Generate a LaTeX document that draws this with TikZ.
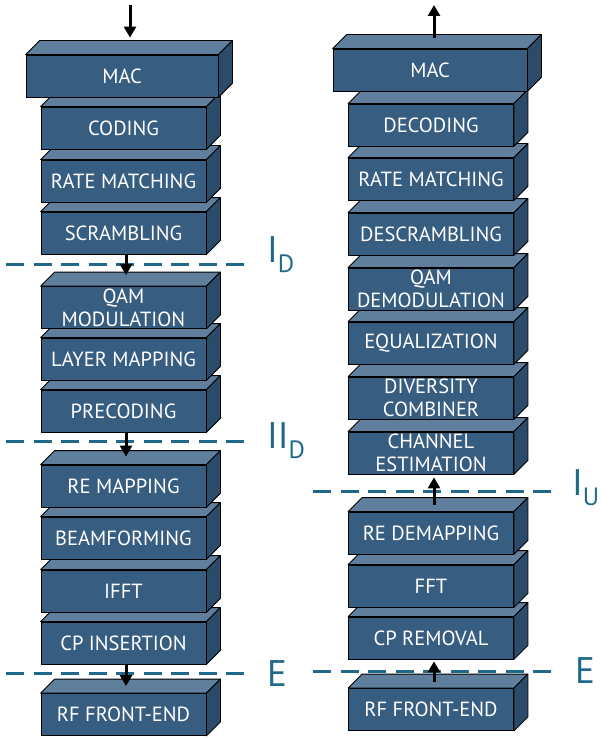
\documentclass[tikz,border=0pt]{standalone}
\usepackage{fontspec}
\setmainfont{PT Sans}
\usetikzlibrary{arrows.meta}
\definecolor{frontc}{HTML}{375D81}
\definecolor{topc}{HTML}{5F7F9D}
\definecolor{sidec}{HTML}{2C4B69}
\definecolor{lblc}{HTML}{1F6A8A}
\tikzset{
  blk/.style={draw=black, fill=frontc, line width=0.8pt, minimum height=42pt, inner sep=0pt,
    text=white, align=center, font=\fontsize{20.5}{23}\selectfont},
  face/.style={draw=black, line width=0.8pt, line join=round},
  sep/.style={draw=lblc, line width=3pt, dash pattern=on 18pt off 9.5pt},
  lbl/.style={text=lblc, inner sep=0pt, anchor=base west, font=\fontsize{37}{37}\selectfont},
  arr/.style={line width=3pt, -{Triangle[length=11pt,width=12pt]}}
}
\newcommand{\blk}[5]{%
  \node[blk, minimum width=#4] (#1) at (#2,#3) {#5};
  \filldraw[face, fill=topc] (#1.north west) -- ([shift={(14pt,14pt)}]#1.north west) -- ([shift={(14pt,14pt)}]#1.north east) -- (#1.north east) -- cycle;
  \filldraw[face, fill=sidec] (#1.north east) -- ([shift={(14pt,14pt)}]#1.north east) -- ([shift={(14pt,14pt)}]#1.south east) -- (#1.south east) -- cycle;
}
\newcommand{\subD}[1]{\raisebox{-10pt}{\fontsize{25}{25}\selectfont #1}}
\begin{document}
\begin{tikzpicture}[x=1pt,y=-1pt]
\useasboundingbox (0,0) rectangle (600,738);
% separators
\draw[sep] (6,264) -- (248,264);
\draw[sep] (6,441) -- (248,441);
\draw[sep] (6,673) -- (248,673);
\draw[sep] (313,491) -- (557,491);
\draw[sep] (313,671) -- (557,671);
\node[lbl] (lid) at (267,262) {I\subD{D}};
\node[lbl] (liid) at (267,448) {II\subD{D}};
\node[lbl] (lel) at (267,686) {E};
\node[lbl] (liu) at (572,495) {I\subD{U}};
\node[lbl] (ler) at (575,683) {E};
% left column (bottom to top)
\blk{lrf}{123.5}{714.5}{165}{RF FRONT-END}
\blk{lcp}{123.5}{643}{165}{CP INSERTION}
\blk{lifft}{123.5}{591}{165}{IFFT}
\blk{lbeam}{123.5}{538}{165}{BEAMFORMING}
\blk{lrem}{123.5}{486}{165}{RE MAPPING}
\blk{lprec}{123.5}{411}{165}{PRECODING}
\blk{llay}{123.5}{359}{165}{LAYER MAPPING}
\blk{lqam}{123.5}{307.5}{165}{QAM\\MODULATION}
\blk{lscr}{123.5}{233}{165}{SCRAMBLING}
\blk{lrate}{123.5}{181}{165}{RATE MATCHING}
\blk{lcod}{123.5}{128}{165}{CODING}
\blk{lmac}{122}{76}{192}{MAC}
% right column (bottom to top)
\blk{rrf}{431}{709.5}{165}{RF FRONT-END}
\blk{rcp}{431}{638}{165}{CP REMOVAL}
\blk{rfft}{431}{586}{165}{FFT}
\blk{rredm}{431}{533}{165}{RE DEMAPPING}
\blk{rchan}{431}{453}{165}{CHANNEL\\ESTIMATION}
\blk{rdiv}{431}{398}{165}{DIVERSITY\\COMBINER}
\blk{req}{431}{343}{165}{EQUALIZATION}
\blk{rqam}{431}{289}{165}{QAM\\DEMODULATION}
\blk{rdes}{431}{234}{165}{DESCRAMBLING}
\blk{rrate}{431}{179}{165}{RATE MATCHING}
\blk{rdec}{431}{125}{165}{DECODING}
\blk{rmac}{430}{70}{194}{MAC}
% arrows
\coordinate (lin) at (130,5);
\coordinate (rout) at (434,5);
\draw[arr] (lin) -- ([xshift=8pt,yshift=17pt]lmac.north);
\draw[arr] ([xshift=2.5pt]lscr.south) -- ([xshift=2.5pt,yshift=11pt]lqam.north);
\draw[arr] ([xshift=2.5pt]lprec.south) -- ([xshift=2.5pt,yshift=8pt]lrem.north);
\draw[arr] ([xshift=2.5pt]lcp.south) -- ([xshift=2.5pt,yshift=7pt]lrf.north);
\draw[arr] ([xshift=4pt,yshift=11pt]rmac.north) -- (rout);
\draw[arr] ([xshift=3pt,yshift=7pt]rredm.north) -- ([xshift=3pt,yshift=-3pt]rchan.south);
\draw[arr] ([xshift=3pt,yshift=6pt]rrf.north) -- ([xshift=3pt,yshift=-2pt]rcp.south);
\end{tikzpicture}
\end{document}
